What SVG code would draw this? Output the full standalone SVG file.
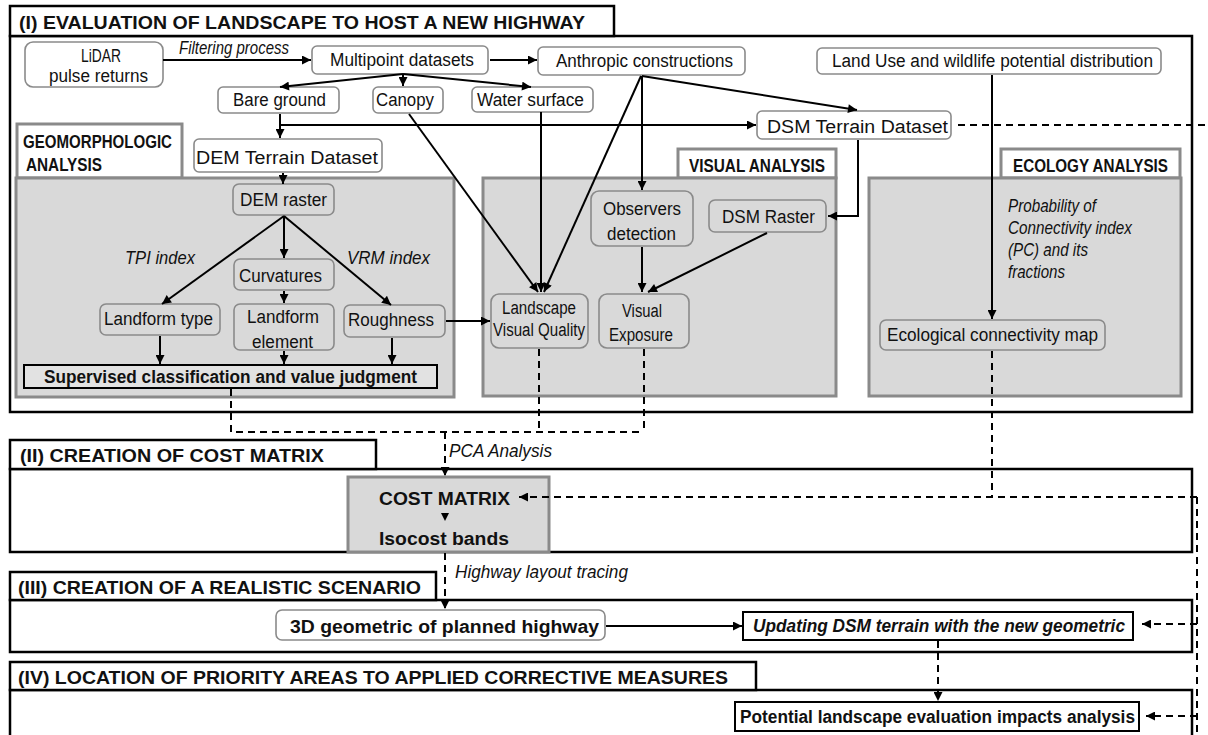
<svg xmlns="http://www.w3.org/2000/svg" width="1208" height="735" viewBox="0 0 1208 735">
<defs>
<marker id="ah" viewBox="0 0 10 10" refX="10" refY="5" markerWidth="10" markerHeight="9" markerUnits="userSpaceOnUse" orient="auto"><path d="M0,0 L10,5 L0,10 z" fill="#000"/></marker>
<style>
.sec{fill:#fff;stroke:#000;stroke-width:2.5}
.panel{fill:#d9d9d9;stroke:#8a8a8a;stroke-width:3}
.ptab{fill:#fff;stroke:#8a8a8a;stroke-width:3}
.n{fill:#fff;stroke:#8a8a8a;stroke-width:1.6}
.ng{fill:#d9d9d9;stroke:#8a8a8a;stroke-width:1.6}
.bx{fill:#fff;stroke:#000;stroke-width:2}
.t{font-family:"Liberation Sans",Arial,sans-serif;fill:#111;font-size:18px}
.b{font-weight:bold}
.i{font-style:italic}
.ln{stroke:#000;stroke-width:2;fill:none}
.ar{marker-end:url(#ah)}
.ds{stroke:#000;stroke-width:2;fill:none;stroke-dasharray:7 5}
</style>
</defs>

<!-- Sections -->
<g id="section-I">
<rect class="sec" x="10" y="36" width="1182" height="376"/>
<rect class="sec" x="10" y="6" width="604" height="30"/>
<text class="t b" x="19" y="29" font-size="20" textLength="566" lengthAdjust="spacingAndGlyphs">(I) EVALUATION OF LANDSCAPE TO HOST A NEW HIGHWAY</text>
</g>
<g id="section-II">
<rect class="sec" x="10" y="469" width="1182" height="83"/>
<rect class="sec" x="10" y="440" width="366" height="29"/>
<text class="t b" x="20" y="462" font-size="20" textLength="304" lengthAdjust="spacingAndGlyphs">(II) CREATION OF COST MATRIX</text>
</g>
<g id="section-III">
<rect class="sec" x="10" y="600" width="1182" height="52"/>
<rect class="sec" x="10" y="572" width="426" height="28"/>
<text class="t b" x="18" y="594" font-size="20" textLength="403" lengthAdjust="spacingAndGlyphs">(III) CREATION OF A REALISTIC SCENARIO</text>
</g>
<g id="section-IV">
<rect class="sec" x="10" y="690" width="1182" height="60"/>
<rect class="sec" x="10" y="662" width="746" height="28"/>
<text class="t b" x="18" y="684" font-size="20" textLength="710" lengthAdjust="spacingAndGlyphs">(IV) LOCATION OF PRIORITY AREAS TO APPLIED CORRECTIVE MEASURES</text>
</g>

<!-- Panels -->
<g id="panel-geomorphologic">
<rect class="ptab" x="17" y="124" width="165" height="54"/>
<rect class="panel" x="16" y="178" width="438" height="219"/>
<text class="t b" x="23" y="148" font-size="15" textLength="149" lengthAdjust="spacingAndGlyphs">GEOMORPHOLOGIC</text>
<text class="t b" x="26" y="171" font-size="15" textLength="76" lengthAdjust="spacingAndGlyphs">ANALYSIS</text>
</g>
<g id="panel-visual">
<rect class="ptab" x="678" y="149" width="158" height="29"/>
<rect class="panel" x="483" y="178" width="353" height="218"/>
<text class="t b" x="689" y="172" font-size="15" textLength="136" lengthAdjust="spacingAndGlyphs">VISUAL ANALYSIS</text>
</g>
<g id="panel-ecology">
<rect class="ptab" x="1001" y="149" width="179" height="29"/>
<rect class="panel" x="869" y="178" width="312" height="218"/>
<text class="t b" x="1013" y="172" font-size="15" textLength="155" lengthAdjust="spacingAndGlyphs">ECOLOGY ANALYSIS</text>
</g>

<!-- Nodes -->
<g id="lidar">
<rect class="n" x="25" y="42" width="138" height="45" rx="8"/>
<text class="t" x="81" y="62" textLength="40" lengthAdjust="spacingAndGlyphs">LiDAR</text>
<text class="t" x="49" y="82" textLength="99" lengthAdjust="spacingAndGlyphs">pulse returns</text>
</g>
<g id="filtering-label">
<text class="t i" x="179" y="54" font-size="15" textLength="110" lengthAdjust="spacingAndGlyphs">Filtering process</text>
</g>
<g id="multipoint">
<rect class="n" x="312" y="46" width="176" height="28" rx="5"/>
<text class="t" x="330" y="66" textLength="144" lengthAdjust="spacingAndGlyphs">Multipoint datasets</text>
</g>
<g id="anthropic">
<rect class="n" x="538" y="47" width="207" height="28" rx="5"/>
<text class="t" x="556" y="67" textLength="177" lengthAdjust="spacingAndGlyphs">Anthropic constructions</text>
</g>
<g id="landuse">
<rect class="n" x="817" y="48" width="344" height="26" rx="5"/>
<text class="t" x="832" y="67" textLength="321" lengthAdjust="spacingAndGlyphs">Land Use and wildlife potential distribution</text>
</g>
<g id="bare-ground">
<rect class="n" x="218" y="87" width="121" height="26" rx="5"/>
<text class="t" x="233" y="106" textLength="93" lengthAdjust="spacingAndGlyphs">Bare ground</text>
</g>
<g id="canopy">
<rect class="n" x="373" y="87" width="70" height="26" rx="5"/>
<text class="t" x="376" y="106" textLength="58" lengthAdjust="spacingAndGlyphs">Canopy</text>
</g>
<g id="water">
<rect class="n" x="472" y="87" width="121" height="25" rx="5"/>
<text class="t" x="477" y="106" textLength="107" lengthAdjust="spacingAndGlyphs">Water surface</text>
</g>
<g id="dsm-terrain">
<rect class="n" x="757" y="111" width="194" height="28" rx="5"/>
<text class="t" x="767" y="133" font-size="21" textLength="181" lengthAdjust="spacingAndGlyphs">DSM Terrain Dataset</text>
</g>
<g id="dem-terrain">
<rect class="n" x="194" y="139" width="188" height="33" rx="5"/>
<text class="t" x="196" y="164" font-size="21" textLength="182" lengthAdjust="spacingAndGlyphs">DEM Terrain Dataset</text>
</g>
<g id="dem-raster">
<rect class="ng" x="233" y="184" width="101" height="31" rx="6"/>
<text class="t" x="240" y="206" textLength="87" lengthAdjust="spacingAndGlyphs">DEM raster</text>
</g>
<g id="tpi-label">
<text class="t i" x="125" y="264" textLength="70" lengthAdjust="spacingAndGlyphs">TPI index</text>
</g>
<g id="vrm-label">
<text class="t i" x="347" y="264" textLength="83" lengthAdjust="spacingAndGlyphs">VRM index</text>
</g>
<g id="curvatures">
<rect class="ng" x="234" y="259" width="100" height="31" rx="6"/>
<text class="t" x="239" y="282" textLength="83" lengthAdjust="spacingAndGlyphs">Curvatures</text>
</g>
<g id="landform-type">
<rect class="ng" x="100" y="304" width="120" height="31" rx="6"/>
<text class="t" x="104" y="325" textLength="109" lengthAdjust="spacingAndGlyphs">Landform type</text>
</g>
<g id="landform-element">
<rect class="ng" x="234" y="304" width="100" height="46" rx="6"/>
<text class="t" x="247" y="323" textLength="72" lengthAdjust="spacingAndGlyphs">Landform</text>
<text class="t" x="252" y="348" textLength="61" lengthAdjust="spacingAndGlyphs">element</text>
</g>
<g id="roughness">
<rect class="ng" x="344" y="305" width="101" height="32" rx="6"/>
<text class="t" x="348" y="326" textLength="86" lengthAdjust="spacingAndGlyphs">Roughness</text>
</g>
<g id="supervised">
<rect x="24" y="365" width="413" height="23" fill="#e2e2e2" stroke="#000" stroke-width="2"/>
<text class="t b" x="44" y="383" font-size="17" textLength="373" lengthAdjust="spacingAndGlyphs">Supervised classification and value judgment</text>
</g>
<g id="observers">
<rect class="ng" x="591" y="191" width="102" height="55" rx="8"/>
<text class="t" x="603" y="215" textLength="78" lengthAdjust="spacingAndGlyphs">Observers</text>
<text class="t" x="607" y="240" textLength="69" lengthAdjust="spacingAndGlyphs">detection</text>
</g>
<g id="dsm-raster">
<rect class="ng" x="709" y="200" width="117" height="32" rx="6"/>
<text class="t" x="722" y="223" textLength="93" lengthAdjust="spacingAndGlyphs">DSM Raster</text>
</g>
<g id="landscape-visual-quality">
<rect class="ng" x="491" y="294" width="97" height="54" rx="8"/>
<text class="t" x="502" y="314" font-size="16" textLength="74" lengthAdjust="spacingAndGlyphs">Landscape</text>
<text class="t" x="493" y="336" font-size="16" textLength="92" lengthAdjust="spacingAndGlyphs">Visual Quality</text>
</g>
<g id="visual-exposure">
<rect class="ng" x="599" y="294" width="90" height="54" rx="8"/>
<text class="t" x="622" y="317" font-size="17" textLength="40" lengthAdjust="spacingAndGlyphs">Visual</text>
<text class="t" x="609" y="341" font-size="17" textLength="64" lengthAdjust="spacingAndGlyphs">Exposure</text>
</g>
<g id="pc-label">
<text class="t i" x="1008" y="212" font-size="16" textLength="88" lengthAdjust="spacingAndGlyphs">Probability of</text>
<text class="t i" x="1008" y="234" font-size="16" textLength="124" lengthAdjust="spacingAndGlyphs">Connectivity index</text>
<text class="t i" x="1008" y="256" font-size="16" textLength="80" lengthAdjust="spacingAndGlyphs">(PC) and its</text>
<text class="t i" x="1008" y="278" font-size="16" textLength="57" lengthAdjust="spacingAndGlyphs">fractions</text>
</g>
<g id="eco-map">
<rect class="ng" x="880" y="320" width="225" height="30" rx="6"/>
<text class="t" x="887" y="341" textLength="211" lengthAdjust="spacingAndGlyphs">Ecological connectivity map</text>
</g>
<g id="pca-label">
<text class="t i" x="449" y="457" textLength="103" lengthAdjust="spacingAndGlyphs">PCA Analysis</text>
</g>
<g id="cost-matrix">
<rect x="348" y="477" width="201" height="75" fill="#d9d9d9" stroke="#8a8a8a" stroke-width="3"/>
<text class="t b" x="379" y="505" font-size="21" textLength="131" lengthAdjust="spacingAndGlyphs">COST MATRIX</text>
<text class="t b" x="379" y="545" font-size="21" textLength="130" lengthAdjust="spacingAndGlyphs">Isocost bands</text>
</g>
<g id="highway-label">
<text class="t i" x="455" y="578" font-size="17" textLength="173" lengthAdjust="spacingAndGlyphs">Highway layout tracing</text>
</g>
<g id="geometric-3d">
<rect class="n" x="276" y="610" width="329" height="30" rx="6"/>
<text class="t b" x="290" y="633" font-size="20" textLength="309" lengthAdjust="spacingAndGlyphs">3D geometric of planned highway</text>
</g>
<g id="updating-dsm">
<rect class="bx" x="743" y="612" width="390" height="28"/>
<text class="t b i" x="753" y="632" textLength="372" lengthAdjust="spacingAndGlyphs">Updating DSM terrain with the new geometric</text>
</g>
<g id="potential-impacts">
<rect class="bx" x="735" y="702" width="404" height="29"/>
<text class="t b" x="740" y="723" textLength="395" lengthAdjust="spacingAndGlyphs">Potential landscape evaluation impacts analysis</text>
</g>

<!-- Connectors -->
<g id="connectors">
<path class="ln ar" d="M163,60 H311"/>
<path class="ln ar" d="M490,60 H537"/>
<path class="ln ar" d="M403,74 L280,87"/>
<path class="ln ar" d="M403,74 V86"/>
<path class="ln ar" d="M403,74 L531,87"/>
<path class="ln ar" d="M280,114 V138"/>
<path class="ln ar" d="M280,125 H756"/>
<path class="ln ar" d="M409,114 L538,292"/>
<path class="ln ar" d="M541,112 V292"/>
<path class="ln ar" d="M641,76 L544,292"/>
<path class="ln ar" d="M642,76 V190"/>
<path class="ln ar" d="M642,76 L857,110"/>
<path class="ln ar" d="M992,75 V319"/>
<path class="ln ar" d="M858,140 V216 H828"/>
<path class="ln ar" d="M283,173 V184"/>
<path class="ln ar" d="M284,216 L162,304"/>
<path class="ln ar" d="M284,216 V258"/>
<path class="ln ar" d="M284,216 L391,305"/>
<path class="ln ar" d="M284,291 V303"/>
<path class="ln ar" d="M160,336 V364"/>
<path class="ln ar" d="M284,351 V364"/>
<path class="ln ar" d="M392,338 V364"/>
<path class="ln ar" d="M446,321 H490"/>
<path class="ln ar" d="M642,247 V292"/>
<path class="ln ar" d="M767,233 L648,292"/>
<path class="ln ar" d="M606,626 H742"/>
<path class="ds" d="M231,389 V432 H644"/>
<path class="ds" d="M539,349 V432"/>
<path class="ds" d="M644,349 V432"/>
<path class="ds ar" d="M445,432 V476"/>
<path class="ds" d="M992,351 V497"/>
<path class="ds" d="M958,125 H1208"/>
<path class="ds" d="M1197,497 V735"/>
<path class="ds ar" d="M1197,497 H519"/>
<path class="ds ar" d="M445,553 V609"/>
<path class="ds ar" d="M1197,624 H1142"/>
<path class="ds ar" d="M1197,716 H1146"/>
<path class="ds ar" d="M938,641 V701"/>
<path d="M441,513 H449 L445,521 z" fill="#000"/>
</g>
</svg>
